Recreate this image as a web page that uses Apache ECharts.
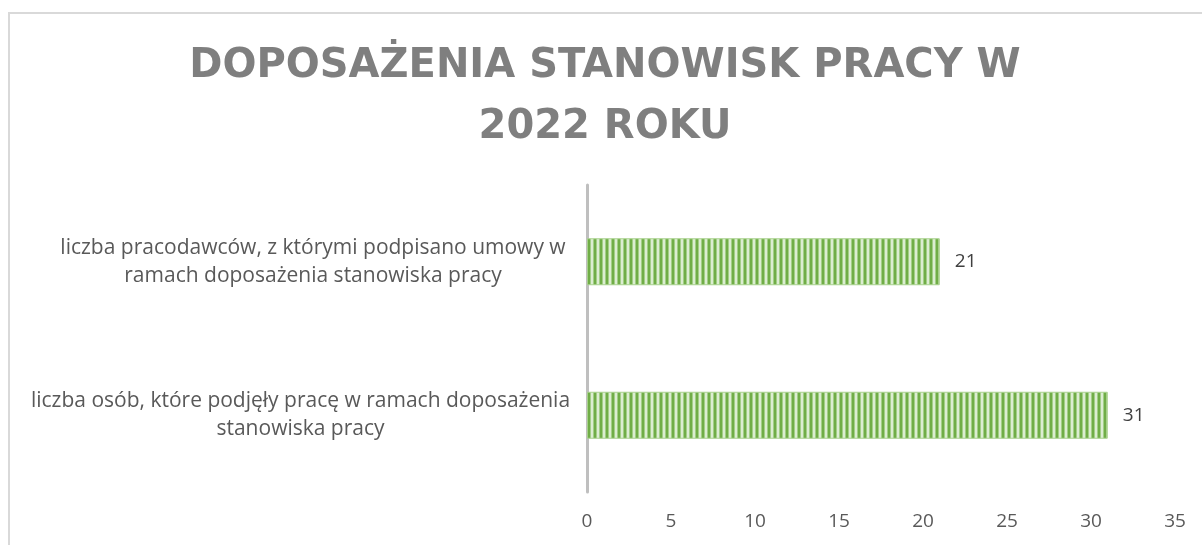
<!DOCTYPE html>
<html>
<head>
<meta charset="utf-8">
<script src="https://cdn.jsdelivr.net/npm/echarts@6/dist/echarts.min.js"></script>
<style>
  html, body { margin: 0; padding: 0; background: #fff; }
  #main { width: 1202px; height: 545px; }
</style>
</head>
<body>
<div id="main"></div>
<script>
// dane wykresu (kategoria 0 = dolny słupek)
var titleText = 'DOPOSAŻENIA STANOWISK PRACY W\n2022 ROKU';
var categories = [
  'liczba osób, które podjęły pracę w ramach doposażenia\nstanowiska pracy',
  'liczba pracodawców, z którymi podpisano umowy w\nramach doposażenia stanowiska pracy'
];
var values = [31, 21];
var xTicks = [0, 5, 10, 15, 20, 25, 30, 35];

// wzór w pionowe paski, jak w Excelu
function stripePattern() {
  var c = document.createElement('canvas');
  c.width = 6;
  c.height = 4;
  var ctx = c.getContext('2d');
  var cols = ['#70AD47', '#70AD47', '#A3CE87', '#DCEDD2', '#DCEDD2', '#A3CE87'];
  for (var i = 0; i < cols.length; i++) {
    ctx.fillStyle = cols[i];
    ctx.fillRect(i, 0, 1, 4);
  }
  return c;
}

var labelFont = { fontSize: 21, lineHeight: 28, color: '#595959', fontFamily: 'Open Sans' };

var myChart = echarts.init(document.getElementById('main'));

myChart.setOption({
  backgroundColor: '#ffffff',
  animation: false,
  title: {
    text: titleText,
    left: 605,
    top: 36,
    textAlign: 'center',
    padding: 0,
    textStyle: {
      fontFamily: 'DejaVu Sans',
      fontWeight: 'bold',
      fontSize: 40,
      lineHeight: 61,
      color: '#7F7F7F'
    }
  },
  graphic: [{
    type: 'rect',
    shape: { x: 9, y: 13, width: 1260, height: 600 },
    style: { fill: 'none', stroke: '#D9D9D9', lineWidth: 2 },
    silent: true
  }],
  grid: {
    left: 587,
    right: 27,
    top: 185,
    bottom: 53
  },
  xAxis: {
    type: 'value',
    min: xTicks[0],
    max: xTicks[xTicks.length - 1],
    interval: xTicks[1] - xTicks[0],
    axisLine: { show: false },
    axisTick: { show: false },
    splitLine: { show: false },
    axisLabel: {
      margin: 20,
      color: '#595959',
      fontSize: 19,
      fontFamily: 'Open Sans'
    }
  },
  yAxis: {
    type: 'category',
    data: categories,
    axisLine: { show: true, lineStyle: { color: '#BFBFBF', width: 3 } },
    axisTick: { show: false },
    axisLabel: Object.assign({
      margin: 18,
      formatter: function (v, idx) {
        return '{c' + idx + '|' + v.split('\n').join('}\n{c' + idx + '|') + '}';
      },
      rich: {
        c0: Object.assign({ width: 537, align: 'center' }, labelFont),
        c1: Object.assign({ width: 512, align: 'center' }, labelFont)
      }
    }, labelFont)
  },
  series: [{
    type: 'bar',
    data: values,
    barWidth: 47,
    itemStyle: {
      color: { image: stripePattern(), repeat: 'repeat' },
      borderColor: '#A9D18E',
      borderWidth: 1
    },
    label: {
      show: true,
      position: 'right',
      distance: 15,
      color: '#404040',
      fontSize: 19,
      fontFamily: 'Open Sans'
    }
  }]
});
</script>
</body>
</html>
